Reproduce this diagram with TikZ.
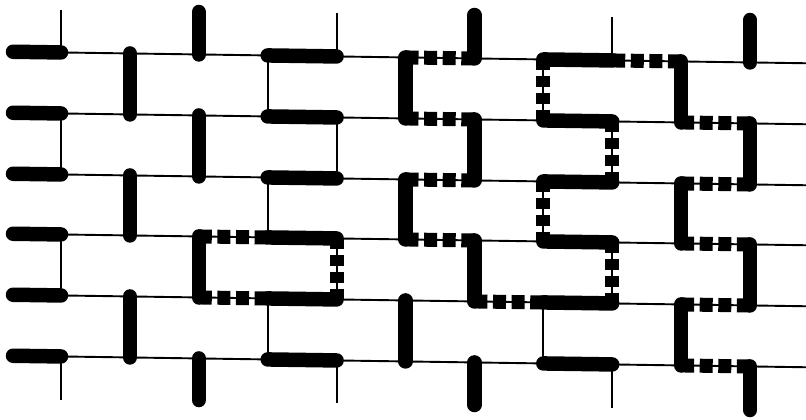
\documentclass[tikz,border=0pt]{standalone}
\begin{document}
\begin{tikzpicture}[x=1pt,y=-1pt,
  thinline/.style={line width=1.9pt},
  dimer/.style={line width=14.5pt,line cap=round},
  hdash/.style={line width=14pt,line cap=butt,dash pattern=on 13pt off 5.6pt},
  vdash/.style={line width=14pt,line cap=butt,dash pattern=on 11pt off 5.7pt}]
\useasboundingbox (0,0) rectangle (806,420);
% lattice vertices
\foreach \r/\Y in {1/52,2/113,3/174,4/234,5/295,6/356}{
  \foreach \c in {0,...,10}{
    \pgfmathsetmacro\xx{61+68.9*\c}
    \pgfmathsetmacro\yy{\Y+0.0145*(\xx-30)}
    \coordinate (n\r-\c) at (\xx,\yy);
  }
  \pgfmathsetmacro\yl{\Y+0.0145*(13-30)}
  \pgfmathsetmacro\yr{\Y+0.0145*(806-30)}
  \coordinate (L\r) at (13,\yl);
  \coordinate (R\r) at (806,\yr);
}
% stub ends
\foreach \c/\t/\b in {0/10/400,2/12/400,4/13/403,6/15/405,8/17/408,10/20/410}{
  \pgfmathsetmacro\xx{61+68.9*\c}
  \coordinate (T\c) at (\xx,\t);
  \coordinate (B\c) at (\xx,\b);
}
% thin lattice
\foreach \r in {1,...,6}{\draw[thinline] (L\r) -- (R\r);}
\foreach \c in {1,3,5,7,9}{
  \draw[thinline] (n1-\c) -- (n2-\c);
  \draw[thinline] (n3-\c) -- (n4-\c);
  \draw[thinline] (n5-\c) -- (n6-\c);
}
\foreach \c in {0,2,4,6,8,10}{
  \draw[thinline] (n2-\c) -- (n3-\c);
  \draw[thinline] (n4-\c) -- (n5-\c);
  \draw[thinline] (T\c) -- (n1-\c);
  \draw[thinline] (n6-\c) -- (B\c);
}
% dashed (second matching)
\foreach \a/\b in {n1-5/n1-6,n1-8/n1-9,n2-5/n2-6,n2-9/n2-10,n3-5/n3-6,n3-9/n3-10,
  n4-2/n4-3,n4-5/n4-6,n4-9/n4-10,n5-2/n5-3,n5-6/n5-7,n5-9/n5-10,n6-9/n6-10}{
  \draw[hdash] (\a) -- (\b);
}
\foreach \a/\b in {n1-7/n2-7,n2-8/n3-8,n3-7/n4-7,n4-4/n5-4,n4-8/n5-8}{
  \draw[vdash] (\a) -- (\b);
}
% thick dimers
\foreach \r in {1,...,6}{
  \draw[dimer] (L\r) -- (n\r-0);
  \draw[dimer] (n\r-3) -- (n\r-4);
  \draw[dimer] (n\r-7) -- (n\r-8);
}
\foreach \c in {1,5,9}{
  \draw[dimer] (n1-\c) -- (n2-\c);
  \draw[dimer] (n3-\c) -- (n4-\c);
  \draw[dimer] (n5-\c) -- (n6-\c);
}
\foreach \c in {2,6,10}{
  \draw[dimer] (T\c) -- (n1-\c);
  \draw[dimer] (n2-\c) -- (n3-\c);
  \draw[dimer] (n4-\c) -- (n5-\c);
  \draw[dimer] (n6-\c) -- (B\c);
}
\end{tikzpicture}
\end{document}
